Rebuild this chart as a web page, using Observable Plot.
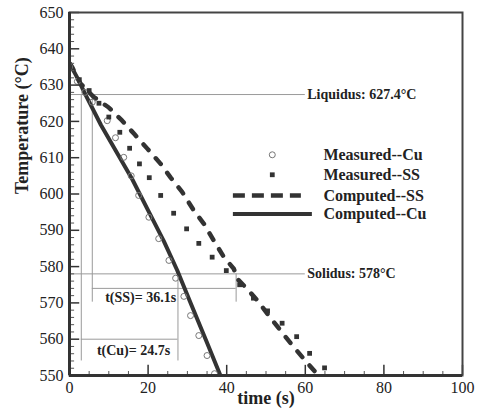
<!DOCTYPE html>
<html>
<head>
<meta charset="utf-8">
<script src="https://cdn.jsdelivr.net/npm/d3@7"></script>
<script src="https://cdn.jsdelivr.net/npm/@observablehq/plot@0.6"></script>
<style>
  html, body { margin: 0; padding: 0; background: #fff; }
</style>
</head>
<body>
<div id="chart"></div>
<script>
// ---- data ----
const measCuTime = [0, 2, 3.9, 5.8, 9.6, 11.7, 13.8, 15.7, 17.6, 20.2, 22.7, 25.3, 27.0, 29.1, 30.8, 32.9, 35.0, 36.9];
const measCuTemp = [635, 631, 628, 625.3, 620.2, 615.5, 610.1, 605, 599.6, 593.6, 587.7, 581.7, 576.8, 571.8, 566.5, 561.0, 555.5, 550.5];

const measSSTime = [0, 2.5, 5, 7.5, 10.0, 12.8, 15.3, 17.8, 20.3, 23.2, 26.5, 29.8, 32.9, 36.3, 39.9, 43.3, 46.8, 50.4, 54.1, 57.8, 61.1, 64.9];
const measSSTemp = [635, 631.5, 628.5, 625, 621.2, 617.0, 612.6, 608.3, 604.5, 599.6, 594.7, 590.4, 586.4, 582.6, 578.9, 575.0, 571.3, 567.8, 564.4, 560.7, 556.1, 552.1];

const compSSTime = [0, 0.7, 2.8, 6.2, 9.9, 13.4, 16.5, 19.8, 23.2, 25.7, 28.7, 31.6, 34.2, 36.7, 39.3, 41.8, 42.8, 44.8, 47.8, 50.7, 53.7, 56.7, 59.6, 62.6, 63.2];
const compSSTemp = [636, 634.9, 630.4, 626.7, 623.9, 620.2, 616.5, 612.5, 608.3, 604.6, 600.5, 595.5, 591.8, 587.2, 582.6, 579.4, 576.5, 574.3, 570.7, 566.5, 562.4, 558.3, 554.6, 550.9, 550];

const compCuTime = [0, 2, 4, 8, 12, 16, 20, 24, 27.4, 31, 35, 38.4];
const compCuTemp = [636, 632, 627.5, 619, 611.5, 604, 595.5, 587, 579, 569.5, 559, 550];

const xTicks = [0, 20, 40, 60, 80, 100];
const yTicks = [550, 560, 570, 580, 590, 600, 610, 620, 630, 640, 650];
const xMinor = [5, 10, 15, 25, 30, 35, 45, 50, 55, 65, 70, 75, 85, 90, 95];
const yMinor = d3.range(552, 650, 2).filter(v => v % 10 !== 0);

const liquidus = 627.4, solidus = 578;
const tCuStart = 3.0, tCuEnd = 27.6, tSSStart = 5.8, tSSEnd = 42.4;
const legendLabels = ["Measured--Cu", "Measured--SS", "Computed--SS", "Computed--Cu"];

const zip = (ts, vs) => ts.map((t, i) => ({t, v: vs[i]}));
const measCu = zip(measCuTime, measCuTemp);
const measSS = zip(measSSTime, measSSTemp);
const compSS = zip(compSSTime, compSSTemp);
const compCu = zip(compCuTime, compCuTemp);

const ink = "#222";
const thin = "#9a9a9a";
const serif = "'Liberation Serif', 'Times New Roman', serif";

// legend rows (temperature units of the plot)
const legY = [610.8, 605.3, 599.6, 594.5];

const chart = Plot.plot({
  width: 481,
  height: 415,
  marginLeft: 69,
  marginRight: 19,
  marginTop: 12,
  marginBottom: 40,
  x: {domain: [0, 100]},
  y: {domain: [550, 650]},
  style: {fontFamily: serif, fontSize: "16px", color: ink, background: "#fff"},
  marks: [
    // reference lines
    Plot.ruleY([liquidus], {x1: 0, x2: 60, stroke: thin, strokeWidth: 1}),
    Plot.ruleY([solidus], {x1: 0, x2: 60, stroke: thin, strokeWidth: 1}),
    Plot.ruleX([tCuStart], {y1: liquidus, y2: 554, stroke: thin, strokeWidth: 1}),
    Plot.ruleX([tSSStart], {y1: liquidus, y2: 570.2, stroke: thin, strokeWidth: 1}),
    Plot.ruleX([tCuEnd], {y1: solidus, y2: 554, stroke: thin, strokeWidth: 1}),
    Plot.ruleX([tSSEnd], {y1: solidus, y2: 570.2, stroke: thin, strokeWidth: 1}),
    Plot.ruleY([560], {x1: tCuStart, x2: tCuEnd, stroke: thin, strokeWidth: 1}),
    Plot.ruleY([574], {x1: tSSStart, x2: tSSEnd, stroke: thin, strokeWidth: 1}),
    Plot.text(["Liquidus: 627.4°C"], {x: 60.5, y: liquidus, text: d => d, textAnchor: "start", fontWeight: "bold", fontSize: 14, fill: ink}),
    Plot.text(["Solidus: 578°C"], {x: 60.5, y: solidus, text: d => d, textAnchor: "start", fontWeight: "bold", fontSize: 14, fill: ink}),
    Plot.text(["t(SS)= 36.1s"], {x: 18.1, y: 571.4, text: d => d, fontWeight: "bold", fontSize: 14, fill: ink}),
    Plot.text(["t(Cu)= 24.7s"], {x: 16.3, y: 556.9, text: d => d, fontWeight: "bold", fontSize: 14, fill: ink}),

    // data
    Plot.line(compSS, {x: "t", y: "v", stroke: "#333", strokeWidth: 4.5, strokeDasharray: "7.5,11", strokeLinecap: "round", clip: true}),
    Plot.line(compCu, {x: "t", y: "v", stroke: "#333", strokeWidth: 4, clip: true}),
    Plot.dot(measCu, {x: "t", y: "v", r: 3, stroke: "#777", strokeWidth: 1, fill: "none", clip: true}),
    Plot.dot(measSS, {x: "t", y: "v", r: 2.7, symbol: "square", fill: "#333", stroke: "none", clip: true}),

    // legend
    Plot.dot([0], {x: 51.6, y: legY[0], r: 3, stroke: "#777", strokeWidth: 1, fill: "none"}),
    Plot.dot([0], {x: 51.6, y: legY[1], r: 2.7, symbol: "square", fill: "#333"}),
    Plot.ruleY([legY[2]], {x1: 41.7, x2: 59.0, stroke: "#333", strokeWidth: 4.5, strokeDasharray: "12,7"}),
    Plot.ruleY([legY[3]], {x1: 41.7, x2: 61.8, stroke: "#333", strokeWidth: 4}),
    Plot.text(legendLabels, {x: 64.6, y: (d, i) => legY[i], text: d => d, textAnchor: "start", fontWeight: "bold", fontSize: 16, fill: ink}),

    // ticks (inside)
    Plot.ruleY(yTicks, {x1: 0, x2: 2.6, stroke: "#333", strokeWidth: 1.5}),
    Plot.ruleY(yMinor, {x1: 0, x2: 1.3, stroke: "#555", strokeWidth: 1}),
    Plot.ruleX(xTicks, {y1: 550, y2: 552.8, stroke: "#333", strokeWidth: 1.5}),
    Plot.ruleX(xMinor, {y1: 550, y2: 551.1, stroke: "#555", strokeWidth: 1}),

    // frame and axes
    Plot.frame({stroke: "#444", strokeWidth: 2}),
    Plot.ruleX([0], {stroke: "#333", strokeWidth: 3}),
    Plot.ruleY([550], {stroke: "#333", strokeWidth: 3}),
    Plot.axisY(yTicks, {tickSize: 0, tickPadding: 6, fontSize: 16, label: null}),
    Plot.axisX(xTicks, {tickSize: 0, tickPadding: 6, fontSize: 16, label: null}),
    Plot.text(["Temperature (°C)"], {frameAnchor: "left", dx: -47, rotate: -90, text: d => d, fontWeight: "bold", fontSize: 18, fill: ink}),
    Plot.text(["time (s)"], {frameAnchor: "bottom", dy: 28, text: d => d, fontWeight: "bold", fontSize: 18, fill: ink})
  ]
});
document.getElementById("chart").appendChild(chart);
</script>
</body>
</html>
